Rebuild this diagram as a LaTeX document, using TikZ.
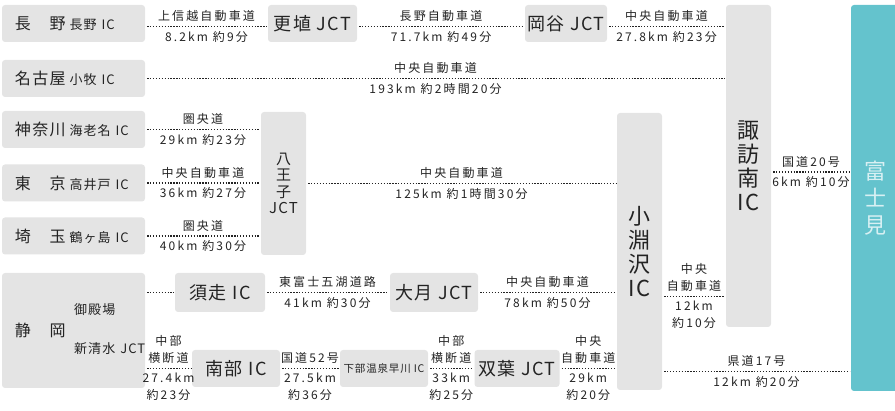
\documentclass[tikz,border=0pt]{standalone}
\usepackage{fontspec}
\setmainfont{Noto Sans CJK JP}[LetterSpace=8]
\newfontfamily\roadfamily{Noto Sans CJK JP}[LetterSpace=18]
\usepackage{tikz}
\usetikzlibrary{positioning}

\definecolor{boxgray}{RGB}{228,228,228}
\definecolor{ink}{RGB}{35,35,35}
\definecolor{fujiteal}{RGB}{100,195,205}

\newcommand\placefont{\fontsize{16}{18}\selectfont}
\newcommand\icfont{\fontsize{13}{15}\selectfont}
\newcommand\jctfont{\fontsize{18}{20}\selectfont}
\newcommand\roadfont{\roadfamily\fontsize{12}{17}\selectfont}
\newcommand\midtallfont{\fontsize{15}{16.5}\selectfont}
\newcommand\tallfont{\fontsize{22}{24}\selectfont}
\newcommand\prefname[2]{{\placefont #1}\hspace{4pt}{\icfont #2\hspace{5pt}IC}}

\tikzset{
  box/.style={fill=boxgray, rounded corners=3pt, inner sep=0pt, text=ink},
  pref/.style={box, minimum width=143pt, minimum height=37pt, text width=117pt, inner xsep=13pt, align=left},
  jct/.style={box, minimum height=37pt, font=\jctfont},
  tall/.style={box, minimum width=45pt, font=\tallfont, align=center},
  road/.style={ink, line width=1.3pt, dash pattern=on 1.3pt off 1.6pt, shorten <=2pt, shorten >=1pt},
  up/.style={midway, above=3pt, font=\roadfont, text=ink, inner sep=1pt, align=center},
  down/.style={midway, below=3pt, font=\roadfont, text=ink, inner sep=1pt, align=center},
}

\begin{document}
\begin{tikzpicture}[x=1pt, y=-1pt]

\useasboundingbox (0,0) rectangle (895,411);

\node [pref] (nagano) at (73.5,23.5) {\prefname{長　野}{長野}};
\node [jct, minimum width=89pt] (koshoku) at (312.5,23.5) {更埴 JCT};
\node [jct, minimum width=82pt] (okaya) at (566,23.5) {岡谷 JCT};
\node [tall, minimum height=322pt] (suwa) at (748.5,166) {諏\\訪\\南\\IC};
\node [tall, fill=fujiteal, text=white!75!fujiteal, minimum width=48pt, minimum height=386pt,
  font=\fontsize{22}{27}\selectfont] (fujimi) at (875,198) {富\\士\\見};

\node [pref] (nagoya) at (73.5,78.5) {\prefname{名古屋}{小牧}};
\node [pref] (kanagawa) at (73.5,129.5) {\prefname{神奈川}{海老名}};
\node [pref] (tokyo) at (73.5,183) {\prefname{東　京}{高井戸}};
\node [pref] (saitama) at (73.5,236) {\prefname{埼　玉}{鶴ヶ島}};
\node [tall, minimum height=143pt, font=\midtallfont] (hachioji) at (283.5,183.5) {八\\王\\子\\JCT};
\node [tall, minimum height=277pt] (kobuchi) at (639.5,251.5) {小\\淵\\沢\\IC};

\node [pref, minimum height=115pt, font=\placefont] (shizuoka) at (73.5,330.5) {静　岡};
\node [font=\icfont, text=ink, anchor=west, inner sep=0pt] (gotemba) at (74,310) {御殿場};
\node [font=\icfont, text=ink, anchor=west, inner sep=0pt] (shinshimizu) at (74,349) {新清水\hspace{5pt}JCT};
\node [jct, minimum width=90pt, minimum height=39pt] (subashiri) at (220,292.5) {須走 IC};
\node [jct, minimum width=88pt, minimum height=39pt] (otsuki) at (434,292.5) {大月 JCT};
\node [jct, minimum width=88pt] (nanbu) at (236,368.5) {南部 IC};
\node [box, minimum width=88pt, minimum height=37pt, font=\fontsize{10.5}{13}\selectfont] (shimobe) at (384,368.5) {下部温泉早川\hspace{3pt}IC};
\node [jct, minimum width=85pt] (futaba) at (517,368.5) {双葉 JCT};

\draw [road] ([yshift=-3pt]nagano.east) -- node[up]{上信越自動車道} node[down]{8.2km 約9分} ([yshift=-3pt]koshoku.west);
\draw [road] ([yshift=-3pt]koshoku.east) -- node[up]{長野自動車道} node[down]{71.7km 約49分} ([yshift=-3pt]okaya.west);
\draw [road] ([yshift=-3pt]okaya.east) -- node[up]{中央自動車道} node[down]{27.8km 約23分} ([yshift=-3pt]okaya.east -| suwa.west);
\draw [road] (nagoya.east) -- node[up]{中央自動車道} node[down]{193km 約2時間20分} (nagoya.east -| suwa.west);

\draw [road] (kanagawa.east) -- node[up]{圏央道} node[down]{29km 約23分} (kanagawa.east -| hachioji.west);
\draw [road] (tokyo.east) -- node[up]{中央自動車道} node[down]{36km 約27分} (tokyo.east -| hachioji.west);
\draw [road] (saitama.east) -- node[up]{圏央道} node[down]{40km 約30分} (saitama.east -| hachioji.west);
\draw [road] (hachioji.east) -- node[up]{中央自動車道} node[down]{125km 約1時間30分} (hachioji.east -| kobuchi.west);
\draw [road] ([yshift=-6pt]suwa.east) -- node[up]{国道20号} node[down]{6km 約10分} ([yshift=-6pt]suwa.east -| fujimi.west);

\draw [road] (shizuoka.east |- subashiri.west) -- (subashiri.west);
\draw [road] (subashiri.east) -- node[up]{東富士五湖道路} node[down]{41km 約30分} (otsuki.west);
\draw [road] (otsuki.east) -- node[up]{中央自動車道} node[down]{78km 約50分} (otsuki.east -| kobuchi.west);
\draw [road] ([yshift=-4pt]otsuki.east -| kobuchi.east) -- node[up]{中央\\自動車道} node[down]{12km\\約10分} ([yshift=-4pt]otsuki.east -| suwa.west);

\draw [road] (shizuoka.east |- nanbu.west) -- node[up]{中部\\横断道} node[down]{27.4km\\約23分} (nanbu.west);
\draw [road] (nanbu.east) -- node[up]{国道52号} node[down]{27.5km\\約36分} (shimobe.west);
\draw [road] (shimobe.east) -- node[up]{中部\\横断道} node[down]{33km\\約25分} (futaba.west);
\draw [road] (futaba.east) -- node[up]{中央\\自動車道} node[down]{29km\\約20分} (futaba.east -| kobuchi.west);
\draw [road] ([yshift=-3pt]futaba.east -| kobuchi.east) -- node[up]{県道17号} node[down]{12km 約20分} ([yshift=-3pt]futaba.east -| fujimi.west);

\end{tikzpicture}
\end{document}
